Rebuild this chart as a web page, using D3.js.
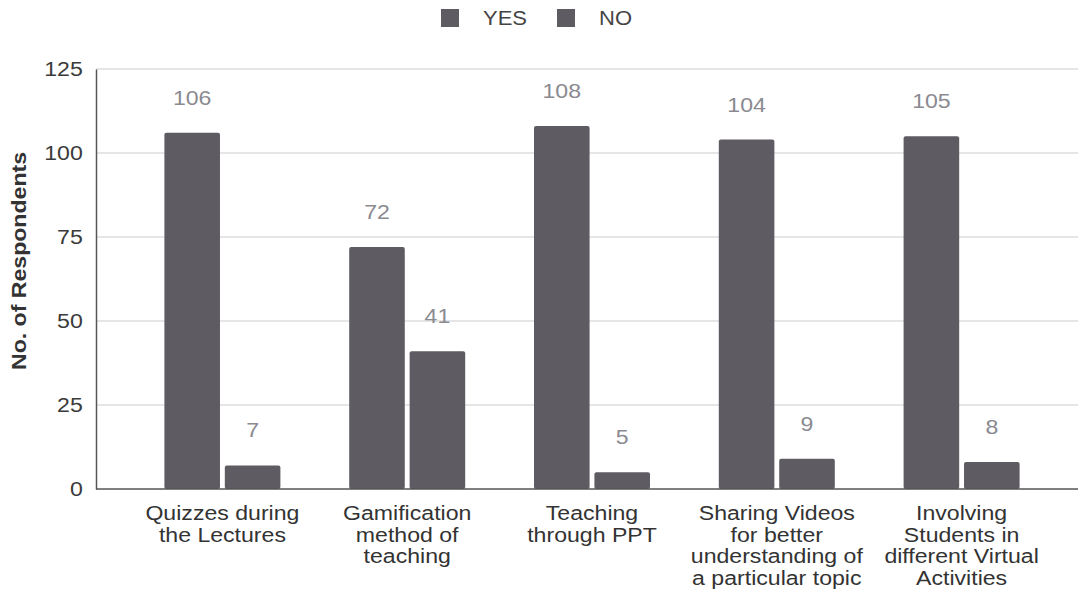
<!DOCTYPE html>
<html>
<head>
<meta charset="utf-8">
<script src="https://cdn.jsdelivr.net/npm/d3@7"></script>
<style>
  html, body { margin: 0; padding: 0; background: #fff; }
  svg { display: block; }
  text { font-family: "Liberation Sans", Arial, sans-serif; }
</style>
</head>
<body>
<svg id="chart" width="1078" height="591"></svg>
<script>
// Survey responses on teaching methods
const categories = [
  ["Quizzes during", "the Lectures"],
  ["Gamification", "method of", "teaching"],
  ["Teaching", "through PPT"],
  ["Sharing Videos", "for better", "understanding of", "a particular topic"],
  ["Involving", "Students in", "different Virtual", "Activities"]
];
const seriesNames = ["YES", "NO"];
const yesValues = [106, 72, 108, 104, 105];
const noValues = [7, 41, 5, 9, 8];
const yTicks = [0, 25, 50, 75, 100, 125];

const barColor = "#5e5b62";
const sx = 1.1; // wide lettering

const svg = d3.select("#chart");
const keys = categories.map((c, i) => "c" + i);
const rows = keys.map((k, i) => ({ key: k, label: categories[i], YES: yesValues[i], NO: noValues[i] }));

const plotLeft = 96, plotRight = 1078, plotTop = 69, plotBottom = 489;

const y = d3.scaleLinear().domain([0, 125]).range([plotBottom, plotTop]);
const x0 = d3.scaleBand().domain(keys).range([130, 1054]).padding(0);
const groupW = 116;
const x1 = d3.scaleBand().domain(seriesNames)
  .range([x0.bandwidth() / 2 - groupW / 2, x0.bandwidth() / 2 + groupW / 2])
  .paddingInner(0.08);

// gridlines
svg.append("g")
  .selectAll("line")
  .data(yTicks.filter(t => t > 0))
  .join("line")
  .attr("x1", plotLeft).attr("x2", plotRight)
  .attr("y1", d => y(d)).attr("y2", d => y(d))
  .attr("stroke", "#dedede").attr("stroke-width", 1.5);

// y axis
const yAxis = svg.append("g")
  .attr("transform", `translate(${plotLeft},0)`)
  .call(d3.axisLeft(y).tickValues(yTicks).tickSize(0).tickPadding(12));
yAxis.select(".domain").attr("stroke", "#555").attr("stroke-width", 1.5);
yAxis.selectAll("text")
  .attr("font-size", 21)
  .attr("fill", "#3a3a3a")
  .attr("transform", `scale(${sx},1)`);

// axis title
svg.append("text")
  .attr("transform", `translate(26,261) rotate(-90) scale(${sx},1)`)
  .attr("text-anchor", "middle")
  .attr("font-size", 21)
  .attr("font-weight", "bold")
  .attr("fill", "#333")
  .text("No. of Respondents");

// bars
const groups = svg.append("g")
  .selectAll("g")
  .data(rows)
  .join("g")
  .attr("transform", d => `translate(${x0(d.key)},0)`);

groups.selectAll("rect")
  .data(d => seriesNames.map(s => ({ s, v: d[s] })))
  .join("rect")
  .attr("x", d => x1(d.s))
  .attr("y", d => y(d.v))
  .attr("width", x1.bandwidth())
  .attr("height", d => y(0) - y(d.v))
  .attr("rx", 2)
  .attr("fill", barColor);

// value labels
groups.selectAll("text.val")
  .data(d => seriesNames.map(s => ({ s, v: d[s] })))
  .join("text")
  .attr("class", "val")
  .attr("transform", d => `translate(${x1(d.s) + x1.bandwidth() / 2},${y(d.v) - 28}) scale(${sx},1)`)
  .attr("text-anchor", "middle")
  .attr("font-size", 21)
  .attr("fill", "#8a8a90")
  .text(d => d.v);

// baseline
svg.append("line")
  .attr("x1", plotLeft).attr("x2", plotRight)
  .attr("y1", y(0)).attr("y2", y(0))
  .attr("stroke", "#555").attr("stroke-width", 1.5);

// category labels
groups.each(function (d) {
  const cx = x0.bandwidth() / 2;
  d3.select(this).selectAll("text.cat")
    .data(d.label)
    .join("text")
    .attr("class", "cat")
    .attr("transform", (t, i) => `translate(${cx},${520 + i * 21.5}) scale(${sx},1)`)
    .attr("text-anchor", "middle")
    .attr("font-size", 21)
    .attr("fill", "#333")
    .text(t => t);
});

// legend
const legendX = d3.scaleOrdinal().domain(seriesNames).range([441, 557]);
const legend = svg.append("g")
  .selectAll("g")
  .data(seriesNames)
  .join("g")
  .attr("transform", d => `translate(${legendX(d)},9)`);
legend.append("rect")
  .attr("width", 18).attr("height", 18)
  .attr("fill", barColor);
legend.append("text")
  .attr("transform", `translate(42,16) scale(${sx},1)`)
  .attr("font-size", 20)
  .attr("fill", "#444")
  .text(d => d);
</script>
</body>
</html>
